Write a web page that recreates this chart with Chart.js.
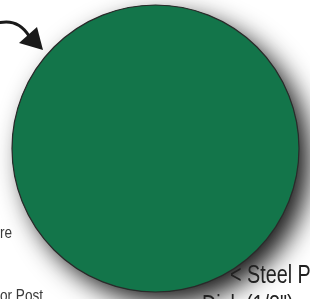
<!DOCTYPE html>
<html>
<head>
<meta charset="utf-8">
<script src="https://cdn.jsdelivr.net/npm/chart.js@4/dist/chart.umd.min.js"></script>
<style>
  html, body { margin: 0; padding: 0; background: #ffffff; }
  #wrap { position: relative; width: 310px; height: 299px; }
</style>
</head>
<body>
<div id="wrap"><canvas id="c"></canvas></div>
<script>
// ---- data ----
const categories = ['Steel Plate Disk'];
const values = [1];
const sliceColors = ['#13754a'];
const leftLabels = ['re', 'or Post'];
const rightLabels = ['< Steel P', 'Disk (1/8")'];

function arcOf(chart) {
  const meta = chart.getDatasetMeta(0);
  return meta.data[0];
}

const shadowPlugin = {
  id: 'shadow',
  beforeDatasetsDraw(chart) {
    const ctx = chart.ctx;
    const a = arcOf(chart);
    if (!a) return;
    ctx.save();
    ctx.shadowColor = 'rgba(0,0,0,0.9)';
    ctx.shadowBlur = 26;
    ctx.shadowOffsetX = 11;
    ctx.shadowOffsetY = 11;
    ctx.fillStyle = sliceColors[0];
    ctx.beginPath();
    ctx.arc(a.x, a.y, a.outerRadius, 0, Math.PI * 2);
    ctx.fill();
    ctx.restore();
  },
  afterDatasetsDraw(chart) {
    const ctx = chart.ctx;
    const a = arcOf(chart);
    if (!a) return;
    ctx.save();
    ctx.strokeStyle = '#2a2a2a';
    ctx.lineWidth = 1.2;
    ctx.beginPath();
    ctx.arc(a.x, a.y, a.outerRadius, 0, Math.PI * 2);
    ctx.stroke();
    ctx.restore();
  }
};

const annotPlugin = {
  id: 'annot',
  afterDraw(chart) {
    const ctx = chart.ctx;
    ctx.save();
    // arrow
    ctx.strokeStyle = '#1a1a1a';
    ctx.fillStyle = '#1a1a1a';
    ctx.lineWidth = 3;
    ctx.beginPath();
    ctx.moveTo(-2, 23);
    ctx.quadraticCurveTo(18, 18, 29, 36);
    ctx.stroke();
    ctx.beginPath();
    ctx.moveTo(19, 43);
    ctx.lineTo(37, 27);
    ctx.lineTo(43, 50);
    ctx.closePath();
    ctx.fill();

    // left labels
    ctx.fillStyle = '#3a3a3a';
    ctx.font = '16px "Liberation Sans", Arial, sans-serif';
    ctx.textAlign = 'right';
    ctx.textBaseline = 'alphabetic';
    ctx.save();
    ctx.translate(12, 238);
    ctx.scale(0.85, 1);
    ctx.fillText(leftLabels[0], 0, 0);
    ctx.restore();
    ctx.textAlign = 'left';
    ctx.save();
    ctx.translate(0, 301);
    ctx.scale(0.85, 1);
    ctx.fillText(leftLabels[1], 0, 0);
    ctx.restore();

    // right labels (condensed)
    ctx.fillStyle = '#222222';
    ctx.font = '26px "Liberation Sans", Arial, sans-serif';
    ctx.save();
    ctx.translate(230, 283);
    ctx.scale(0.76, 1);
    ctx.fillText(rightLabels[0], 0, 0);
    ctx.restore();
    ctx.save();
    ctx.translate(202, 313);
    ctx.scale(0.76, 1);
    ctx.fillText(rightLabels[1], 0, 0);
    ctx.restore();
    ctx.restore();
  }
};

new Chart(document.getElementById('c'), {
  type: 'pie',
  data: {
    labels: categories,
    datasets: [{
      data: values,
      backgroundColor: sliceColors,
      borderWidth: 0
    }]
  },
  options: {
    responsive: true,
    maintainAspectRatio: false,
    animation: false,
    layout: { padding: { left: 12, right: 11, top: 5, bottom: 7 } },
    plugins: {
      legend: { display: false },
      tooltip: { enabled: false }
    }
  },
  plugins: [shadowPlugin, annotPlugin]
});
</script>
</body>
</html>
